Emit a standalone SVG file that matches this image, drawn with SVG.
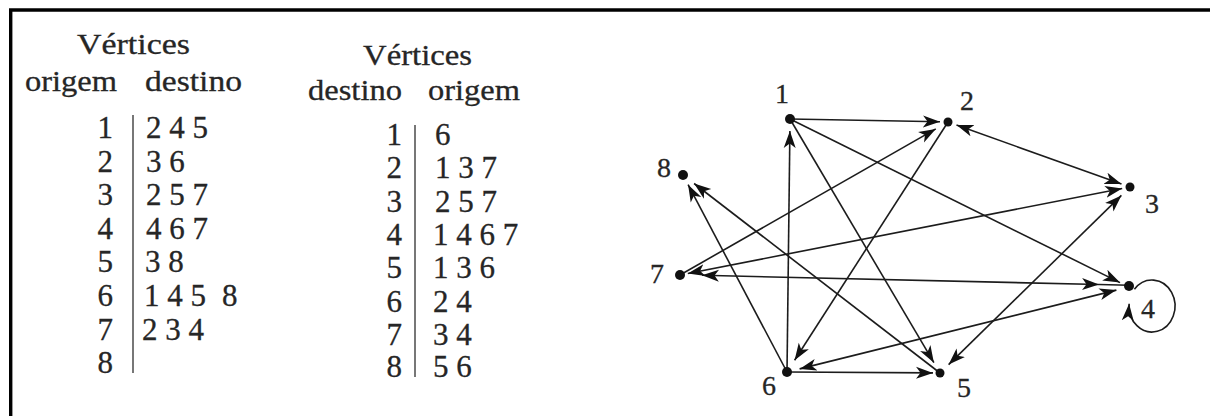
<svg xmlns="http://www.w3.org/2000/svg" width="1210" height="416" viewBox="0 0 1210 416">
<style>
.t{font-family:"Liberation Serif","Times New Roman",serif;fill:#262626;stroke:#262626;stroke-width:0.3}
.h{font-size:30px}
.r{font-size:31px}
.n{font-size:28px;font-family:"Liberation Serif","Times New Roman",serif;fill:#262626;stroke:#262626;stroke-width:0.3}
.e{stroke:#1c1c1c;stroke-width:1.6;fill:none}
.bar{stroke:#555;stroke-width:1.6}
.dot{fill:#111}
</style>
<defs>
<marker id="ah" markerUnits="userSpaceOnUse" markerWidth="20" markerHeight="14" refX="17" refY="7" orient="auto-start-reverse" viewBox="0 0 20 14">
<path d="M0,1 L17,7 L0,13 L4.5,7 z" fill="#111"/>
</marker>
</defs>
<rect width="1210" height="416" fill="#fff"/>
<g id="frame" stroke="#000" stroke-width="3.4" fill="none">
<line x1="9" y1="10" x2="1210" y2="10"/>
<line x1="10.7" y1="9" x2="10.7" y2="416"/>
</g>
<g id="table-origem-destino" class="t">
<text class="h" x="77" y="54" textLength="113" lengthAdjust="spacingAndGlyphs">Vértices</text>
<text class="h" x="25" y="91" textLength="92" lengthAdjust="spacingAndGlyphs">origem</text>
<text class="h" x="145" y="91" textLength="97" lengthAdjust="spacingAndGlyphs">destino</text>
<line class="bar" x1="133" y1="115" x2="133" y2="373"/>
<g class="r" text-anchor="end">
<text x="113" y="138">1</text><text x="113" y="171.6">2</text><text x="113" y="205.2">3</text><text x="113" y="238.8">4</text>
<text x="113" y="272.4">5</text><text x="113" y="306">6</text><text x="113" y="339.6">7</text><text x="113" y="373.2">8</text>
</g>
<g class="r">
<text x="146" y="138">2 4 5</text><text x="146" y="171.6">3 6</text><text x="146" y="205.2">2 5 7</text><text x="146" y="238.8">4 6 7</text>
<text x="145" y="272.4">3 8</text><text x="144" y="306">1 4 5<tspan x="222">8</tspan></text><text x="142" y="339.6">2 3 4</text>
</g>
</g>
<g id="table-destino-origem" class="t">
<text class="h" x="363" y="65" textLength="109" lengthAdjust="spacingAndGlyphs">Vértices</text>
<text class="h" x="308" y="100" textLength="94" lengthAdjust="spacingAndGlyphs">destino</text>
<text class="h" x="428" y="100" textLength="92" lengthAdjust="spacingAndGlyphs">origem</text>
<line class="bar" x1="415" y1="125" x2="415" y2="377"/>
<g class="r" text-anchor="end">
<text x="402" y="145">1</text><text x="402" y="178">2</text><text x="402" y="212">3</text><text x="402" y="245">4</text>
<text x="402" y="278">5</text><text x="402" y="312">6</text><text x="402" y="345">7</text><text x="402" y="377">8</text>
</g>
<g class="r">
<text x="435" y="145">6</text><text x="435" y="178">1 3 7</text><text x="435" y="212">2 5 7</text><text x="433" y="245">1 4 6 7</text>
<text x="433" y="278">1 3 6</text><text x="433" y="312">2 4</text><text x="433" y="345">3 4</text><text x="433" y="377">5 6</text>
</g>
</g>
<g id="connectors">
<line class="e" x1="790" y1="119" x2="940" y2="121.8" marker-end="url(#ah)"/>
<line class="e" x1="790" y1="119" x2="1120" y2="282.6" marker-end="url(#ah)"/>
<line class="e" x1="790" y1="119" x2="933.9" y2="362.7" marker-end="url(#ah)"/>
<line class="e" x1="956.5" y1="125" x2="1121.5" y2="184" marker-start="url(#ah)" marker-end="url(#ah)"/>
<line class="e" x1="948" y1="122" x2="794.6" y2="360.2" marker-end="url(#ah)"/>
<line class="e" x1="1121.4" y1="195.4" x2="948.6" y2="364.6" marker-start="url(#ah)" marker-end="url(#ah)"/>
<line class="e" x1="1122.2" y1="188.5" x2="687.8" y2="273.5" marker-start="url(#ah)" marker-end="url(#ah)"/>
<line class="e" x1="1116.4" y1="290.1" x2="799.6" y2="368.9" marker-start="url(#ah)" marker-end="url(#ah)"/>
<line class="e" x1="1099" y1="284.5" x2="702" y2="275.3" marker-start="url(#ah)" marker-end="url(#ah)"/>
<line class="e" x1="1129" y1="285.2" x2="1099" y2="284.5"/>
<line class="e" x1="940" y1="373" x2="694.1" y2="183.5" marker-end="url(#ah)"/>
<line class="e" x1="787" y1="372" x2="688.1" y2="184.7" marker-end="url(#ah)"/>
<line class="e" x1="787" y1="372" x2="789.9" y2="131" marker-end="url(#ah)"/>
<line class="e" x1="787" y1="372" x2="933" y2="372.9" marker-end="url(#ah)"/>
<line class="e" x1="680" y1="275" x2="935.8" y2="128.9" marker-end="url(#ah)"/>
<path class="e" d="M1134.4,289.3 A23,26 0 1,1 1129.1,303.7" marker-end="url(#ah)"/>
</g>
<g id="node-1"><circle class="dot" cx="790" cy="119" r="5"/><text class="n" x="775" y="103">1</text></g>
<g id="node-2"><circle class="dot" cx="948" cy="122" r="4.5"/><text class="n" x="960" y="110">2</text></g>
<g id="node-3"><circle class="dot" cx="1130" cy="187" r="4.5"/><text class="n" x="1145" y="213">3</text></g>
<g id="node-4"><circle class="dot" cx="1129" cy="286" r="5"/><text class="n" x="1141" y="318">4</text></g>
<g id="node-5"><circle class="dot" cx="940" cy="373" r="4.5"/><text class="n" x="957" y="397">5</text></g>
<g id="node-6"><circle class="dot" cx="787" cy="372" r="5"/><text class="n" x="762" y="395">6</text></g>
<g id="node-7"><circle class="dot" cx="680" cy="275" r="5"/><text class="n" x="650" y="283">7</text></g>
<g id="node-8"><circle class="dot" cx="683" cy="175" r="5"/><text class="n" x="657" y="177">8</text></g>
</svg>
